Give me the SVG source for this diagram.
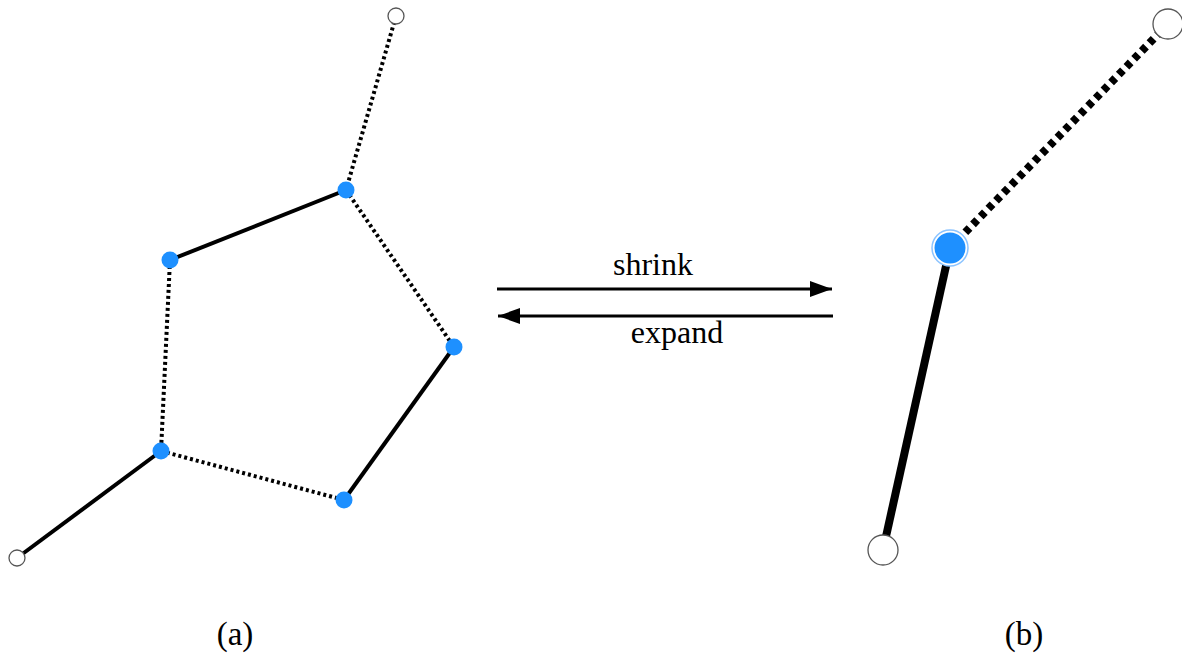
<svg xmlns="http://www.w3.org/2000/svg" width="1182" height="656" viewBox="0 0 1182 656">
<style>
.solid{stroke:#000;stroke-width:4;fill:none}
.dot{stroke:#000;stroke-width:4;stroke-dasharray:3 3;fill:none}
.bsolid{stroke:#000;stroke-width:8;fill:none}
.bdot{stroke:#000;stroke-width:8;stroke-dasharray:6 5;fill:none}
.blue{fill:#1e90ff}
.open{fill:#fff;stroke:#555;stroke-width:1.3}
.arr{stroke:#000;stroke-width:3;fill:none}
text{font-family:"Liberation Serif",serif;fill:#000}
</style>
<defs>
<marker id="ah2" viewBox="0 0 22 16" refX="22" refY="8" markerWidth="22" markerHeight="16" markerUnits="userSpaceOnUse" orient="auto">
<path d="M0,0 L22,8 L0,16 Z" fill="#000"/>
</marker>
</defs>
<g id="connectors">
<line class="dot" x1="396" y1="16" x2="346" y2="190"/>
<line class="solid" x1="346" y1="190" x2="170" y2="260"/>
<line class="dot" x1="346" y1="190" x2="454" y2="347"/>
<line class="dot" x1="170" y1="260" x2="161" y2="451"/>
<line class="solid" x1="454" y1="347" x2="344" y2="500"/>
<line class="dot" x1="161" y1="451" x2="344" y2="500"/>
<line class="solid" x1="161" y1="451" x2="17" y2="558"/>
<line class="bdot" x1="950" y1="248" x2="1168" y2="24"/>
<line class="bsolid" x1="950" y1="248" x2="883" y2="550"/>
<line class="arr" x1="497" y1="289" x2="832" y2="289" marker-end="url(#ah2)"/>
<line class="arr" x1="833" y1="316" x2="498" y2="316" marker-end="url(#ah2)"/>
</g>
<g id="n_top"><circle class="open" cx="396" cy="16" r="8"/></g>
<g id="n_A"><circle class="blue" cx="346" cy="190" r="8.5"/></g>
<g id="n_B"><circle class="blue" cx="170" cy="260" r="8.5"/></g>
<g id="n_C"><circle class="blue" cx="454" cy="347" r="8.5"/></g>
<g id="n_D"><circle class="blue" cx="161" cy="451" r="8.5"/></g>
<g id="n_E"><circle class="blue" cx="344" cy="500" r="8.5"/></g>
<g id="n_bl"><circle class="open" cx="17" cy="558" r="8"/></g>
<g id="r_top"><circle class="open" cx="1168" cy="24" r="15"/></g>
<g id="r_mid"><circle cx="950" cy="248" r="18" fill="#fff" stroke="#8cc4ff" stroke-width="1.5"/><circle class="blue" cx="950" cy="248" r="15.5"/></g>
<g id="r_bot"><circle class="open" cx="883" cy="550" r="15"/></g>
<g id="labels">
<text x="653" y="275" font-size="32" text-anchor="middle">shrink</text>
<text x="677" y="343" font-size="32" text-anchor="middle">expand</text>
<text x="235" y="645" font-size="33" text-anchor="middle">(a)</text>
<text x="1024" y="645" font-size="33" text-anchor="middle">(b)</text>
</g>
</svg>
